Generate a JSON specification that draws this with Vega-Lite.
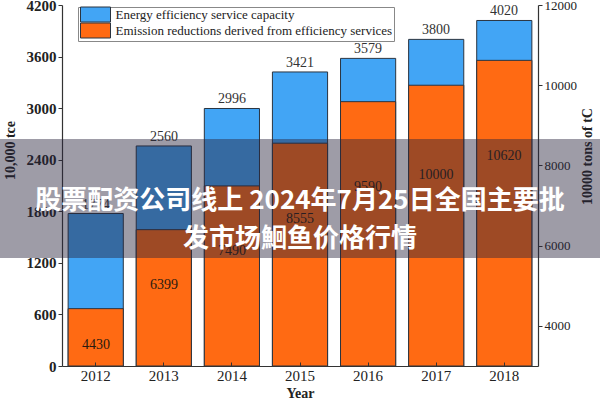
{
  "$schema": "https://vega.github.io/schema/vega-lite/v6.json",
  "width": 476,
  "height": 361,
  "autosize": {"type": "none"},
  "padding": {"left": 62, "top": 5, "right": 62, "bottom": 34},
  "background": "white",
  "config": {
    "view": {"stroke": null},
    "font": "Liberation Serif",
    "axis": {
      "labelFont": "Liberation Serif",
      "labelFontSize": 13,
      "labelColor": "#222",
      "titleFont": "Liberation Serif",
      "titleFontSize": 14,
      "titleFontWeight": "bold",
      "titleColor": "#222",
      "domainColor": "#333",
      "tickColor": "#333",
      "domainWidth": 1.2,
      "grid": false,
      "format": "d"
    }
  },
  "data": {
    "values": [
      {"year": "2012", "capacity": 1774, "reduction": 4430},
      {"year": "2013", "capacity": 2560, "reduction": 6399},
      {"year": "2014", "capacity": 2996, "reduction": 7490},
      {"year": "2015", "capacity": 3421, "reduction": 8555},
      {"year": "2016", "capacity": 3579, "reduction": 9590},
      {"year": "2017", "capacity": 3800, "reduction": 10000},
      {"year": "2018", "capacity": 4020, "reduction": 10620}
    ]
  },
  "resolve": {"scale": {"x": "independent", "y": "independent"}},
  "layer": [
    {
      "mark": {"type": "bar", "stroke": "#2a3440", "strokeWidth": 1},
      "encoding": {
        "x": {
          "field": "year", "type": "ordinal",
          "scale": {"paddingInner": 0.19, "paddingOuter": 0.09},
          "axis": {"title": "Year", "labelAngle": 0, "tickSize": -4, "labelPadding": 6, "zindex": 1, "titlePadding": 3, "labelFontSize": 15}
        },
        "y": {
          "field": "capacity", "type": "quantitative",
          "scale": {"domain": [0, 4200], "nice": false},
          "axis": {"title": "10,000 tce", "values": [0, 600, 1200, 1800, 2400, 3000, 3600, 4200], "format": "d", "tickSize": 4, "labelPadding": 2, "titlePadding": 9, "titleY": 145, "labelFontSize": 15, "labelFontWeight": "bold"}
        },
        "color": {
          "datum": "Energy efficiency service capacity", "type": "nominal",
          "scale": {"domain": ["Energy efficiency service capacity", "Emission reductions derived from efficiency services"], "range": ["#42A5F5", "#FF6A13"]},
          "legend": {
            "title": null, "orient": "none", "legendX": 16, "legendY": 2,
            "symbolType": "M-3,-1.5H3V1.5H-3Z", "symbolSize": 100, "symbolOffset": 10,
            "labelOffset": 13.5, "labelFontSize": 13, "labelFont": "Liberation Serif", "labelColor": "#222",
            "labelLimit": 400, "padding": 1, "rowPadding": -4,
            "strokeColor": "#888", "fillColor": "white",
            "symbolStrokeColor": "#333", "symbolStrokeWidth": 1, "symbolOpacity": 1
          }
        }
      }
    },
    {
      "mark": {"type": "bar", "stroke": "#2a3440", "strokeWidth": 1},
      "encoding": {
        "x": {"field": "year", "type": "ordinal", "scale": {"paddingInner": 0.19, "paddingOuter": 0.09}, "axis": null},
        "y": {
          "field": "reduction", "type": "quantitative",
          "scale": {"domain": [3000, 12000], "nice": false, "zero": false},
          "axis": {"orient": "right", "title": "10000 tons of tC", "values": [4000, 6000, 8000, 10000, 12000], "format": "d", "tickSize": 4, "labelPadding": 2, "titlePadding": 18, "titleAngle": 270, "titleY": 151}
        },
        "y2": {"datum": 3000},
        "color": {"datum": "Emission reductions derived from efficiency services", "type": "nominal"}
      }
    },
    {
      "mark": {"type": "text", "baseline": "bottom", "dy": -2, "font": "Liberation Serif", "fontSize": 14, "color": "#333"},
      "encoding": {
        "x": {"field": "year", "type": "ordinal", "scale": {"paddingInner": 0.19, "paddingOuter": 0.09}, "axis": null},
        "y": {"field": "capacity", "type": "quantitative", "scale": {"domain": [0, 4200], "nice": false}, "axis": null},
        "text": {"field": "capacity", "type": "quantitative", "format": "d"}
      }
    },
    {
      "mark": {"type": "text", "baseline": "middle", "font": "Liberation Serif", "fontSize": 14, "color": "#2a1a10"},
      "encoding": {
        "x": {"field": "year", "type": "ordinal", "scale": {"paddingInner": 0.19, "paddingOuter": 0.09}, "axis": null},
        "y": {"field": "reduction", "type": "quantitative", "scale": {"domain": [3736, 15550], "nice": false, "zero": false}, "axis": null},
        "text": {"field": "reduction", "type": "quantitative", "format": "d"}
      }
    },
    {
      "data": {"values": [{}]},
      "mark": {"type": "rect", "fill": "#28233c", "opacity": 0.45},
      "encoding": {
        "x": {"datum": -0.1303, "type": "quantitative", "scale": {"domain": [0, 1], "nice": false, "zero": false}, "axis": null},
        "x2": {"datum": 1.1303},
        "y": {"datum": 2641, "type": "quantitative", "scale": {"domain": [0, 4200], "nice": false}, "axis": null},
        "y2": {"datum": 1256}
      }
    },
    {
      "data": {"values": [{}]},
      "mark": {
        "type": "text", "text": ["股票配资公司线上 2024年7月25日全国主要批", "发市场鮰鱼价格行情"],
        "font": "Noto Sans CJK SC", "fontWeight": "bold", "fontSize": 26, "color": "white",
        "align": "center", "baseline": "middle", "lineHeight": 38
      },
      "encoding": {
        "x": {"datum": 0.5, "type": "quantitative", "scale": {"domain": [0, 1], "nice": false, "zero": false}, "axis": null},
        "y": {"datum": 1920, "type": "quantitative", "scale": {"domain": [0, 4200], "nice": false}, "axis": null}
      }
    }
  ]
}
